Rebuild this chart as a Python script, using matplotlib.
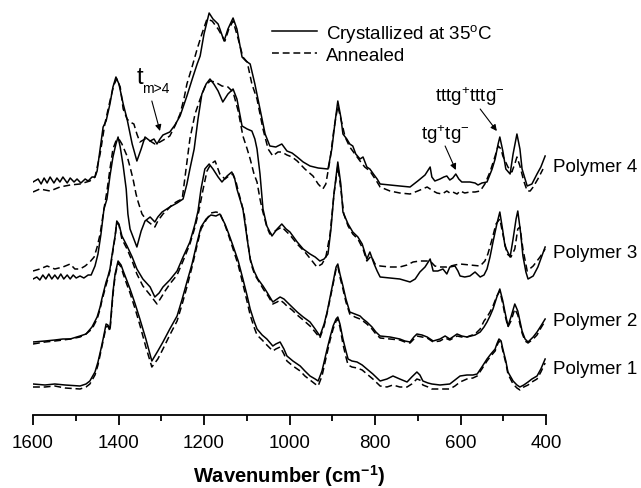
import matplotlib
matplotlib.use("Agg")
import matplotlib.pyplot as plt
from matplotlib.ticker import MultipleLocator
from matplotlib.lines import Line2D

plt.rcParams["font.family"] = ["Liberation Sans", "DejaVu Sans"]
plt.rcParams["mathtext.fontset"] = "custom"
plt.rcParams["mathtext.rm"] = "Liberation Sans"
plt.rcParams["mathtext.it"] = "Liberation Sans"

# Spectra (wavenumber in cm-1, intensity in a.u., curves already stacked)
# Polymer 4
p4_wn_cryst = [1600, 1588, 1581, 1574, 1567, 1560, 1551, 1544, 1537, 1530, 1520, 1513, 1504, 1497, 1488, 1478, 1471,
               1462, 1455, 1450, 1443, 1436, 1429, 1420, 1413, 1406, 1399, 1389, 1380, 1368, 1357, 1347, 1338, 1326,
               1317, 1310, 1303, 1296, 1280, 1268, 1256, 1240, 1226, 1216, 1209, 1200, 1188, 1179, 1167, 1153, 1144,
               1132, 1123, 1111, 1102, 1092, 1081, 1069, 1057, 1046, 1032, 1018, 1006, 994, 982, 968, 952, 933, 910,
               901, 894, 887, 880, 875, 866, 859, 852, 845, 835, 828, 819, 812, 802, 795, 788, 765, 742, 718, 700, 683,
               671, 667, 660, 648, 639, 632, 625, 618, 611, 604, 597, 578, 566, 559, 550, 538, 526, 519, 512, 508, 501,
               494, 484, 477, 468, 461, 456, 444, 433, 421, 412, 402]
p4_int_cryst = [233, 236, 231, 237, 232, 238, 232, 237, 233, 238, 232, 237, 233, 236, 232, 236, 234, 238, 238, 244,
                266, 288, 294, 311, 328, 338, 331, 311, 296, 271, 254, 266, 278, 274, 276, 271, 276, 280, 283, 290,
                299, 319, 338, 351, 359, 381, 402, 396, 391, 374, 386, 397, 386, 358, 354, 351, 331, 306, 281, 269,
                268, 271, 264, 262, 258, 253, 249, 247, 246, 266, 291, 314, 298, 281, 276, 271, 269, 261, 256, 258,
                248, 246, 240, 236, 231, 230, 229, 228, 234, 240, 248, 238, 234, 236, 238, 239, 235, 237, 241, 236,
                233, 233, 232, 230, 232, 233, 246, 256, 271, 278, 264, 246, 241, 261, 281, 266, 246, 229, 231, 241,
                248, 259]
p4_wn_anneal = [1600, 1584, 1560, 1537, 1513, 1490, 1467, 1455, 1443, 1432, 1420, 1411, 1404, 1396, 1389, 1380, 1373,
                1364, 1357, 1350, 1338, 1326, 1315, 1303, 1291, 1280, 1268, 1256, 1247, 1240, 1228, 1216, 1205, 1193,
                1181, 1167, 1151, 1142, 1132, 1120, 1109, 1099, 1088, 1076, 1062, 1050, 1039, 1027, 1018, 1006, 994,
                982, 964, 945, 933, 922, 915, 905, 896, 887, 877, 870, 859, 847, 835, 824, 812, 795, 788, 765, 742, 718,
                700, 678, 664, 655, 643, 632, 625, 618, 608, 601, 590, 578, 566, 554, 543, 531, 519, 512, 505, 501, 489,
                480, 473, 468, 461, 452, 444, 437, 430, 419, 407]
p4_int_anneal = [223, 226, 224, 228, 230, 231, 234, 238, 261, 291, 314, 330, 336, 328, 306, 296, 293, 291, 281, 273,
                 276, 274, 271, 273, 276, 279, 289, 301, 316, 331, 348, 366, 381, 396, 394, 386, 374, 386, 394, 376,
                 358, 353, 331, 316, 286, 266, 259, 263, 263, 260, 258, 254, 246, 239, 231, 226, 231, 256, 286, 309,
                 291, 278, 268, 261, 254, 248, 244, 233, 228, 224, 222, 221, 224, 228, 224, 222, 221, 224, 222, 223,
                 221, 224, 222, 223, 223, 224, 231, 243, 259, 269, 266, 259, 248, 243, 251, 258, 249, 234, 224, 224,
                 228, 236, 246]

# Polymer 3
p3_wn_cryst = [1600, 1591, 1584, 1577, 1570, 1563, 1556, 1549, 1542, 1535, 1528, 1520, 1513, 1506, 1499, 1490, 1481,
               1471, 1464, 1455, 1448, 1441, 1434, 1427, 1420, 1413, 1406, 1401, 1396, 1389, 1382, 1378, 1373, 1364,
               1357, 1347, 1338, 1326, 1315, 1308, 1298, 1280, 1263, 1249, 1240, 1233, 1223, 1214, 1205, 1195, 1186,
               1177, 1167, 1156, 1144, 1132, 1123, 1111, 1099, 1088, 1081, 1076, 1069, 1062, 1053, 1041, 1029, 1018,
               1008, 999, 982, 968, 952, 940, 929, 919, 910, 903, 896, 887, 880, 875, 863, 852, 840, 830, 819, 812,
               802, 795, 788, 765, 742, 718, 706, 695, 683, 671, 664, 653, 641, 632, 625, 613, 606, 601, 590, 578, 566,
               554, 545, 538, 531, 524, 515, 508, 501, 496, 484, 477, 470, 466, 459, 454, 447, 442, 430, 419, 402]
p3_int_cryst = [136, 138, 135, 140, 136, 141, 136, 140, 136, 141, 136, 140, 136, 140, 137, 139, 137, 140, 140, 149,
                161, 181, 206, 216, 239, 258, 271, 278, 268, 249, 226, 201, 186, 176, 168, 184, 194, 198, 193, 198,
                203, 208, 212, 216, 231, 246, 266, 296, 321, 331, 336, 331, 324, 313, 321, 326, 316, 289, 286, 284,
                276, 266, 241, 206, 189, 179, 186, 191, 186, 183, 173, 166, 161, 158, 154, 156, 161, 186, 221, 253,
                231, 203, 191, 183, 178, 171, 156, 163, 151, 144, 138, 137, 136, 133, 136, 143, 148, 156, 144, 144,
                146, 141, 148, 149, 144, 139, 138, 139, 143, 138, 140, 146, 158, 173, 191, 203, 184, 169, 158, 176,
                196, 204, 181, 159, 143, 136, 139, 148, 168]
p3_wn_anneal = [1600, 1584, 1567, 1549, 1530, 1513, 1502, 1490, 1478, 1467, 1457, 1450, 1443, 1434, 1427, 1420, 1413,
                1406, 1399, 1392, 1380, 1373, 1366, 1359, 1354, 1345, 1333, 1324, 1315, 1308, 1296, 1284, 1273, 1261,
                1251, 1242, 1233, 1221, 1209, 1198, 1186, 1174, 1158, 1144, 1132, 1120, 1109, 1099, 1092, 1083, 1076,
                1069, 1064, 1053, 1046, 1034, 1018, 999, 982, 964, 947, 936, 924, 915, 905, 896, 887, 880, 873, 863,
                852, 840, 828, 819, 809, 800, 788, 765, 742, 725, 711, 695, 671, 660, 648, 632, 613, 601, 578, 554, 543,
                536, 526, 517, 508, 501, 491, 482, 473, 466, 461, 454, 444, 430, 414, 402]
p3_int_anneal = [144, 146, 149, 146, 148, 151, 146, 146, 149, 153, 158, 168, 181, 206, 224, 246, 266, 274, 276, 271,
                 259, 248, 236, 221, 213, 201, 194, 191, 188, 194, 201, 206, 211, 214, 216, 246, 276, 301, 316, 328,
                 334, 333, 329, 328, 323, 304, 279, 266, 256, 241, 233, 216, 206, 188, 181, 184, 188, 180, 171, 163,
                 154, 148, 151, 158, 181, 221, 249, 226, 201, 189, 181, 176, 166, 154, 159, 151, 149, 148, 148, 150,
                 153, 154, 154, 149, 148, 148, 150, 151, 150, 149, 154, 161, 176, 191, 196, 181, 161, 158, 166, 186,
                 188, 166, 144, 149, 158, 166]

# Polymer 2
p2_wn_cryst = [1600, 1572, 1549, 1530, 1513, 1490, 1476, 1462, 1450, 1443, 1439, 1429, 1425, 1420, 1413, 1408, 1404,
               1399, 1392, 1380, 1368, 1357, 1343, 1326, 1315, 1305, 1296, 1280, 1263, 1249, 1233, 1221, 1214, 1207,
               1198, 1188, 1179, 1167, 1158, 1146, 1135, 1128, 1123, 1116, 1109, 1099, 1092, 1083, 1074, 1062, 1053,
               1039, 1029, 1022, 1013, 1006, 994, 982, 968, 952, 940, 929, 919, 912, 905, 898, 891, 887, 882, 875, 868,
               859, 847, 835, 828, 819, 807, 798, 788, 765, 742, 730, 718, 709, 702, 690, 678, 664, 648, 636, 625, 608,
               597, 585, 566, 554, 545, 538, 531, 524, 515, 508, 501, 496, 489, 482, 473, 466, 456, 449, 442, 430, 421,
               412, 402]
p2_int_cryst = [73, 74, 75, 76, 76, 79, 81, 88, 98, 108, 116, 133, 138, 146, 166, 179, 194, 191, 179, 169, 158, 146,
                136, 128, 118, 122, 128, 135, 144, 158, 173, 191, 204, 226, 246, 251, 246, 238, 233, 239, 243, 236,
                226, 216, 206, 176, 156, 144, 136, 129, 123, 113, 116, 118, 116, 113, 108, 103, 98, 93, 86, 79, 91,
                103, 118, 133, 148, 151, 141, 129, 116, 103, 101, 99, 96, 93, 88, 83, 79, 78, 76, 74, 73, 78, 81, 80,
                78, 74, 76, 79, 76, 81, 79, 78, 80, 83, 88, 93, 99, 106, 118, 126, 114, 103, 89, 98, 111, 104, 84, 76,
                73, 78, 83, 89, 96]
p2_wn_anneal = [1600, 1572, 1549, 1530, 1513, 1490, 1476, 1462, 1450, 1443, 1439, 1429, 1425, 1420, 1413, 1408, 1404,
                1399, 1392, 1380, 1368, 1357, 1343, 1326, 1310, 1301, 1291, 1280, 1263, 1249, 1233, 1221, 1212, 1202,
                1193, 1184, 1174, 1163, 1151, 1139, 1132, 1125, 1120, 1113, 1106, 1097, 1090, 1081, 1071, 1060, 1050,
                1039, 1029, 1022, 1013, 1006, 994, 982, 968, 952, 940, 929, 919, 912, 905, 898, 891, 887, 882, 875,
                868, 859, 847, 835, 828, 819, 807, 798, 788, 765, 742, 730, 718, 709, 702, 690, 678, 664, 648, 636,
                625, 608, 597, 585, 566, 554, 545, 538, 531, 524, 515, 508, 501, 496, 489, 482, 473, 466, 456, 449,
                442, 430, 421, 412, 402]
p2_int_anneal = [71, 73, 74, 75, 76, 78, 81, 86, 96, 106, 114, 130, 136, 144, 164, 178, 192, 190, 176, 166, 154, 141,
                 129, 120, 111, 117, 124, 131, 140, 154, 171, 188, 204, 226, 244, 251, 254, 241, 236, 240, 241, 233,
                 224, 213, 201, 171, 151, 140, 133, 125, 119, 111, 113, 115, 112, 109, 105, 100, 95, 89, 83, 77, 89,
                 102, 116, 131, 146, 149, 138, 126, 113, 101, 98, 96, 94, 91, 86, 81, 77, 76, 75, 73, 72, 76, 79, 78,
                 77, 73, 74, 77, 75, 79, 78, 78, 81, 86, 94, 98, 103, 109, 119, 124, 111, 100, 88, 94, 106, 100, 82,
                 74, 72, 76, 80, 87, 94]

# Polymer 1
p1_wn_cryst = [1600, 1572, 1549, 1525, 1490, 1476, 1467, 1455, 1448, 1441, 1436, 1429, 1425, 1420, 1413, 1408, 1401,
               1394, 1389, 1380, 1373, 1361, 1350, 1336, 1322, 1308, 1296, 1280, 1263, 1251, 1240, 1228, 1216, 1207,
               1195, 1184, 1172, 1163, 1151, 1142, 1132, 1120, 1109, 1099, 1092, 1083, 1076, 1064, 1053, 1039, 1032,
               1022, 1013, 1006, 992, 975, 964, 952, 940, 933, 924, 912, 905, 898, 891, 887, 882, 875, 868, 863, 854,
               842, 830, 819, 805, 788, 772, 758, 742, 725, 714, 702, 695, 688, 676, 667, 648, 625, 613, 601, 585, 571,
               561, 550, 538, 529, 519, 515, 510, 505, 501, 494, 489, 477, 468, 461, 452, 442, 433, 421, 412, 402]
p1_int_cryst = [31, 30, 31, 30, 29, 31, 34, 43, 53, 66, 76, 91, 90, 86, 123, 141, 154, 150, 144, 134, 126, 111, 96,
                76, 54, 64, 73, 86, 99, 116, 133, 151, 173, 188, 196, 200, 199, 201, 191, 181, 169, 154, 136, 119,
                106, 94, 86, 80, 76, 69, 71, 73, 66, 59, 54, 49, 44, 39, 36, 34, 44, 66, 78, 89, 96, 98, 91, 76, 64,
                56, 54, 53, 50, 46, 41, 34, 36, 39, 36, 33, 38, 43, 40, 34, 32, 31, 30, 31, 35, 39, 40, 40, 41, 48, 56,
                61, 66, 71, 76, 74, 66, 54, 43, 34, 30, 28, 30, 33, 36, 39, 46, 56]
p1_wn_anneal = p1_wn_cryst
p1_int_anneal = [28, 28, 29, 27, 26, 28, 31, 40, 50, 64, 74, 88, 89, 84, 120, 139, 152, 148, 141, 130, 122, 106, 90,
                 68, 48, 56, 66, 80, 94, 111, 128, 148, 170, 186, 195, 202, 203, 202, 190, 179, 166, 150, 131, 113,
                 100, 88, 80, 75, 70, 64, 66, 68, 61, 54, 49, 44, 39, 35, 31, 29, 39, 62, 75, 86, 94, 96, 88, 71, 58,
                 50, 48, 47, 45, 41, 36, 29, 28, 30, 28, 28, 31, 36, 35, 30, 28, 26, 26, 26, 29, 33, 36, 37, 39, 46, 54,
                 59, 64, 69, 74, 72, 64, 52, 41, 31, 27, 25, 28, 30, 33, 36, 43, 52]

labels = ["Polymer 4", "Polymer 3", "Polymer 2", "Polymer 1"]
label_levels = [249, 163, 94, 46]

fig = plt.figure(figsize=(6.41, 4.89), dpi=100)
ax = fig.add_axes([33 / 641, 73 / 489, 513 / 641, 408 / 489])

lw = 1.1
dash = (4.5, 2.5)
ax.plot(p4_wn_cryst, p4_int_cryst, color="black", lw=lw)
ax.plot(p4_wn_anneal, p4_int_anneal, color="black", lw=lw, dashes=dash)
ax.plot(p3_wn_cryst, p3_int_cryst, color="black", lw=lw)
ax.plot(p3_wn_anneal, p3_int_anneal, color="black", lw=lw, dashes=dash)
ax.plot(p2_wn_cryst, p2_int_cryst, color="black", lw=lw)
ax.plot(p2_wn_anneal, p2_int_anneal, color="black", lw=lw, dashes=dash)
ax.plot(p1_wn_cryst, p1_int_cryst, color="black", lw=lw)
ax.plot(p1_wn_anneal, p1_int_anneal, color="black", lw=lw, dashes=dash)

ax.set_xlim(1600, 400)
ax.set_ylim(0, 408)

for lab, lev in zip(labels, label_levels):
    ax.text(384, lev, lab, fontsize=13.5, ha="left", va="center", clip_on=False)

# band assignments
arrow = dict(arrowstyle="-|>", color="black", lw=0.8, mutation_scale=9, shrinkA=0, shrinkB=0)
ax.text(1350, 338, "t", fontsize=17, ha="center", va="center")
ax.text(1344, 327, "m>4", fontsize=10, ha="left", va="center")
ax.annotate("", xy=(1303, 284), xytext=(1322, 314), arrowprops=arrow)
ax.text(636, 281, r"tg$^{+}$tg$^{-}$", fontsize=13.5, ha="center", va="center")
ax.annotate("", xy=(611, 245), xytext=(636, 269), arrowprops=arrow)
ax.text(578, 319, r"tttg$^{+}$tttg$^{-}$", fontsize=13.5, ha="center", va="center")
ax.annotate("", xy=(515, 284), xytext=(554, 306), arrowprops=arrow)

handles = [Line2D([0], [0], color="black", lw=lw, label=r"Crystallized at 35$^{\mathregular{o}}$C"),
           Line2D([0], [0], color="black", lw=lw, dashes=dash, label="Annealed")]
ax.legend(handles=handles, loc="upper left", bbox_to_anchor=(0.436, 1.0), frameon=False,
          fontsize=13.5, handlelength=2.4, handletextpad=0.5, labelspacing=0.15, borderpad=0.3)

for side in ["left", "right", "top"]:
    ax.spines[side].set_visible(False)
ax.spines["bottom"].set_linewidth(1.3)
ax.set_yticks([])
ax.xaxis.set_major_locator(MultipleLocator(200))
ax.xaxis.set_minor_locator(MultipleLocator(100))
ax.tick_params(axis="x", which="major", direction="out", length=7, width=1.3, labelsize=13.5, pad=7)
ax.tick_params(axis="x", which="minor", direction="out", length=4, width=1.3)
ax.set_xlabel(r"Wavenumber (cm$^{\mathregular{-1}}$)", fontsize=14.5, fontweight="bold", labelpad=8)

fig.savefig("out.png", dpi=100)
